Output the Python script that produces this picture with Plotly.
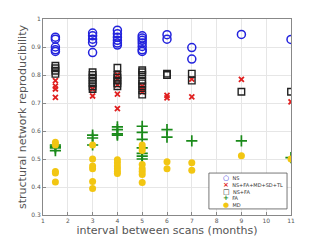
import plotly.graph_objects as go

ns_x = [1.5]*5 + [3]*5 + [4]*6 + [5]*7 + [6]*2 + [7]*2 + [9] + [11]
ns_y = [0.935, 0.928, 0.900, 0.890, 0.884,
        0.950, 0.940, 0.928, 0.916, 0.880,
        0.960, 0.947, 0.935, 0.924, 0.914, 0.907,
        0.940, 0.932, 0.924, 0.914, 0.902, 0.890, 0.884,
        0.944, 0.928,
        0.898, 0.857,
        0.945,
        0.927]

all_x = [1.5]*4 + [3]*2 + [4]*5 + [5]*3 + [6]*2 + [7]*2 + [9] + [11]
all_y = [0.780, 0.760, 0.750, 0.720,
         0.750, 0.725,
         0.800, 0.785, 0.765, 0.732, 0.680,
         0.760, 0.750, 0.740,
         0.727, 0.718,
         0.785, 0.722,
         0.784,
         0.704]

nsfa_x = [1.5]*4 + [3]*7 + [4]*6 + [5]*8 + [6]*2 + [7]*2 + [9] + [11]
nsfa_y = [0.833, 0.824, 0.815, 0.804,
          0.810, 0.800, 0.790, 0.780, 0.770, 0.760, 0.750,
          0.826, 0.800, 0.790, 0.780, 0.770, 0.760,
          0.817, 0.810, 0.800, 0.780, 0.770, 0.760, 0.745, 0.730,
          0.805, 0.800,
          0.805, 0.780,
          0.740,
          0.740]

fa_x = [1.5]*4 + [3]*3 + [4]*4 + [5]*7 + [6]*2 + [7] + [9] + [11]
fa_y = [0.550, 0.545, 0.540, 0.530,
        0.585, 0.575, 0.550,
        0.615, 0.605, 0.590, 0.585,
        0.617, 0.595, 0.570, 0.540, 0.520, 0.510, 0.500,
        0.605, 0.578,
        0.565,
        0.565,
        0.505]

md_x = [1.5]*5 + [3]*6 + [4]*6 + [5]*8 + [6]*2 + [7]*2 + [9] + [11]
md_y = [0.560, 0.550, 0.455, 0.450, 0.418,
        0.550, 0.500, 0.475, 0.465, 0.420, 0.395,
        0.497, 0.487, 0.475, 0.465, 0.455, 0.448,
        0.550, 0.540, 0.530, 0.480, 0.465, 0.455, 0.445, 0.416,
        0.490, 0.465,
        0.487, 0.460,
        0.512,
        0.500]

x_ticks = [1, 2, 3, 4, 5, 6, 7, 8, 9, 10, 11]
y_ticks = [0.3, 0.4, 0.5, 0.6, 0.7, 0.8, 0.9, 1.0]
y_labels = ["0.3", "0.4", "0.5", "0.6", "0.7", "0.8", "0.9", "1"]

series_names = ["NS", "NS+FA+MD+SD+TL", "NS+FA", "FA", "MD"]
series_colors = ["#2222dd", "#e02020", "#222222", "#1a8a1a", "#f2c612"]
legend_glyphs = ["○", "×", "□", "+", "●"]

fig = go.Figure()
fig.add_trace(go.Scatter(x=ns_x, y=ns_y, mode="markers", name=series_names[0],
                         marker=dict(symbol="circle-open", size=8, color=series_colors[0],
                                     line=dict(width=1.5, color=series_colors[0]))))
fig.add_trace(go.Scatter(x=all_x, y=all_y, mode="markers", name=series_names[1],
                         marker=dict(symbol="x-thin-open", size=5, color=series_colors[1],
                                     line=dict(width=1.8, color=series_colors[1]))))
fig.add_trace(go.Scatter(x=nsfa_x, y=nsfa_y, mode="markers", name=series_names[2],
                         marker=dict(symbol="square-open", size=6.5, color=series_colors[2],
                                     line=dict(width=1.4, color=series_colors[2]))))
fig.add_trace(go.Scatter(x=fa_x, y=fa_y, mode="markers", name=series_names[3],
                         marker=dict(symbol="cross-thin-open", size=8, color=series_colors[3],
                                     line=dict(width=1.7, color=series_colors[3]))))
fig.add_trace(go.Scatter(x=md_x, y=md_y, mode="markers", name=series_names[4],
                         marker=dict(symbol="circle", size=7, color=series_colors[4],
                                     line=dict(width=0))))

# compact legend: a framed box with one multi-line text block (glyph + name per row)
box_x0, box_x1, box_y0, box_y1 = 0.669, 0.984, 0.031, 0.214
fig.add_shape(type="rect", xref="paper", yref="paper",
              x0=box_x0, x1=box_x1, y0=box_y0, y1=box_y1,
              line=dict(color="#555555", width=0.8), fillcolor="white", layer="above")
legend_text = "<br>".join(
    f'<span style="color:{c};font-size:7px"><b>{g}</b></span>&nbsp;&nbsp;'
    f'<span style="font-size:5px">{n}</span>'
    for g, c, n in zip(legend_glyphs, series_colors, series_names))
fig.add_annotation(xref="paper", yref="paper", x=0.717, y=0.122,
                   text=legend_text, showarrow=False, xanchor="left", yanchor="middle",
                   align="left", font=dict(size=5.2, color="#333333", family="DejaVu Sans"))

fig.update_layout(
    width=315, height=234,
    margin=dict(l=35, r=32, t=11, b=27),
    paper_bgcolor="white", plot_bgcolor="white",
    font=dict(family="DejaVu Sans", color="#444444"),
    showlegend=False,
)
fig.update_xaxes(range=[1, 11], tickvals=x_ticks, ticktext=[str(v) for v in x_ticks],
                 tickfont=dict(size=6, color="#555555"), automargin=False,
                 showgrid=True, gridcolor="#e6e6e6", gridwidth=0.8, zeroline=False,
                 showline=True, linecolor="#888888", linewidth=1, mirror=True,
                 ticks="inside", ticklen=3, tickcolor="#888888",
                 title=dict(text="interval between scans (months)",
                            font=dict(size=11, color="#555555"), standoff=2))
fig.update_yaxes(range=[0.3, 1], tickvals=y_ticks, ticktext=y_labels,
                 tickfont=dict(size=6, color="#555555"), automargin=False,
                 showgrid=True, gridcolor="#e6e6e6", gridwidth=0.8, zeroline=False,
                 showline=True, linecolor="#888888", linewidth=1, mirror=True,
                 ticks="inside", ticklen=3, tickcolor="#888888",
                 title=dict(text="structural network reproducibility",
                            font=dict(size=11, color="#555555"), standoff=2))

fig.write_html("out.html")
